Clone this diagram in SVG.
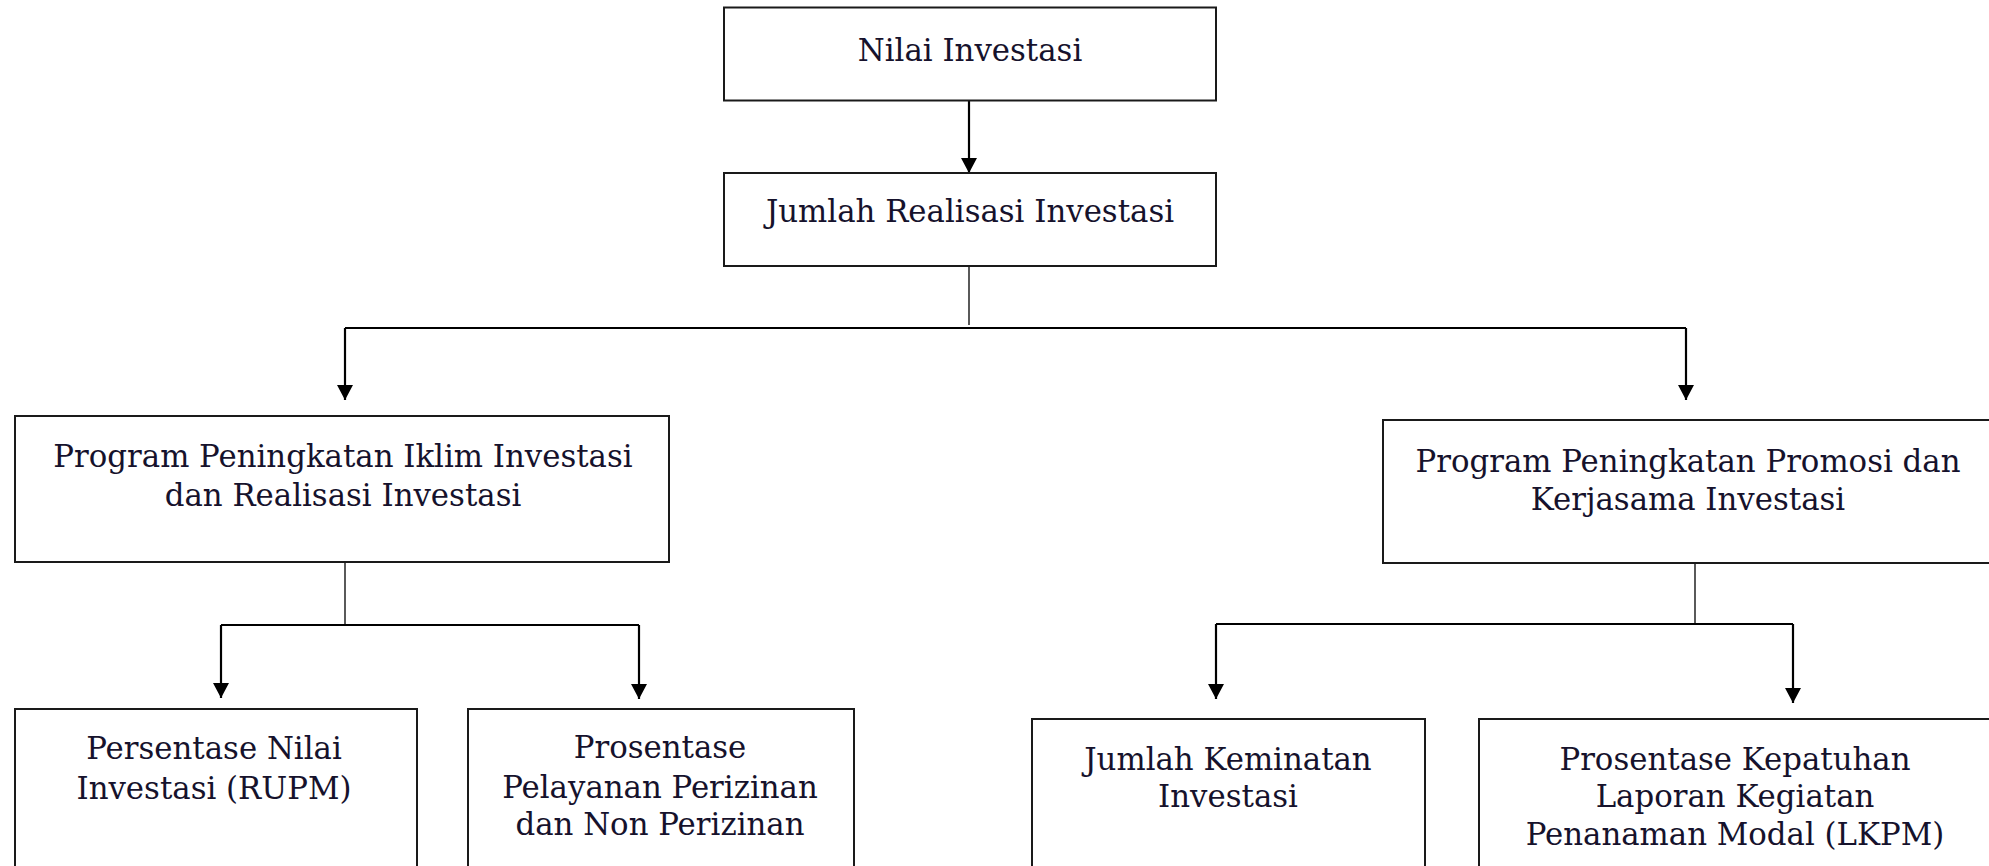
<svg xmlns="http://www.w3.org/2000/svg" width="1989" height="866" viewBox="0 0 1989 866">
  <defs>
    <marker id="arr" markerUnits="userSpaceOnUse" markerWidth="15" markerHeight="16" refX="14" refY="7.5" orient="auto" viewBox="0 0 14 15">
      <path d="M0,0 L14,7.5 L0,15 Z" fill="#000"/>
    </marker>
    <style>
      .box { fill: #fff; stroke: #1a1a1a; stroke-width: 2; }
      .t { font-family: "DejaVu Serif", "Liberation Serif", serif; font-size: 30.8px; fill: #16122c; text-anchor: middle; }
      .ln { fill: none; stroke: #000; stroke-width: 2.2; }
      .thin { fill: none; stroke: #000; stroke-width: 1.3; }
      .ar { fill: none; stroke: #000; stroke-width: 2.2; marker-end: url(#arr); }
    </style>
  </defs>
  <rect width="1989" height="866" fill="#fff"/>

  <g id="connectors">
    <path class="ar" d="M969,101 V173"/>
    <path class="thin" d="M969,266 V325"/>
    <path class="ln" d="M345,328 H1686"/>
    <path class="ar" d="M345,328 V400"/>
    <path class="ar" d="M1686,328 V400"/>
    <path class="thin" d="M345,562 V625"/>
    <path class="ln" d="M221,625 H639"/>
    <path class="ar" d="M221,625 V698"/>
    <path class="ar" d="M639,625 V699"/>
    <path class="thin" d="M1695,563 V624"/>
    <path class="ln" d="M1216,624 H1793"/>
    <path class="ar" d="M1216,624 V699"/>
    <path class="ar" d="M1793,624 V703"/>
  </g>

  <g id="nilai-investasi">
    <rect class="box" x="724" y="7.5" width="492" height="93"/>
    <text class="t" x="970" y="61">Nilai Investasi</text>
  </g>
  <g id="jumlah-realisasi">
    <rect class="box" x="724" y="173" width="492" height="93"/>
    <text class="t" x="970" y="222">Jumlah Realisasi Investasi</text>
  </g>
  <g id="program-iklim">
    <rect class="box" x="15" y="416" width="654" height="146"/>
    <text class="t" x="343" y="467">Program Peningkatan Iklim Investasi</text>
    <text class="t" x="343" y="506">dan Realisasi Investasi</text>
  </g>
  <g id="program-promosi">
    <rect class="box" x="1383" y="420" width="630" height="143"/>
    <text class="t" x="1688" y="472">Program Peningkatan Promosi dan</text>
    <text class="t" x="1688" y="510">Kerjasama Investasi</text>
  </g>
  <g id="persentase-nilai">
    <rect class="box" x="15" y="709" width="402" height="200"/>
    <text class="t" x="214" y="759">Persentase Nilai</text>
    <text class="t" x="214" y="799">Investasi (RUPM)</text>
  </g>
  <g id="prosentase-pelayanan">
    <rect class="box" x="468" y="709" width="386" height="200"/>
    <text class="t" x="660" y="758">Prosentase</text>
    <text class="t" x="660" y="798">Pelayanan Perizinan</text>
    <text class="t" x="660" y="835">dan Non Perizinan</text>
  </g>
  <g id="jumlah-keminatan">
    <rect class="box" x="1032" y="719" width="393" height="200"/>
    <text class="t" x="1228" y="770">Jumlah Keminatan</text>
    <text class="t" x="1228" y="807">Investasi</text>
  </g>
  <g id="prosentase-kepatuhan">
    <rect class="box" x="1479" y="719" width="530" height="200"/>
    <text class="t" x="1735" y="770">Prosentase Kepatuhan</text>
    <text class="t" x="1735" y="807">Laporan Kegiatan</text>
    <text class="t" x="1735" y="845">Penanaman Modal (LKPM)</text>
  </g>
</svg>
